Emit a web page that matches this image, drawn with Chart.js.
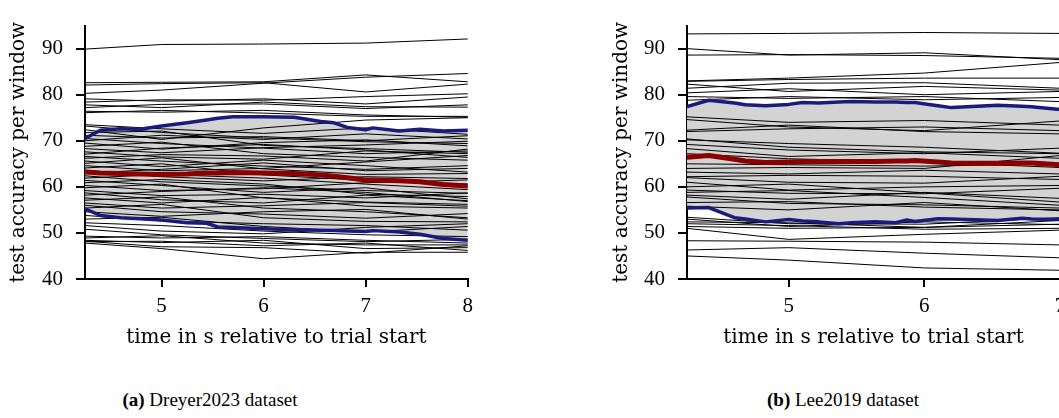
<!DOCTYPE html>
<html>
<head>
<meta charset="utf-8">
<script src="https://cdn.jsdelivr.net/npm/chart.js@4/dist/chart.umd.min.js"></script>
<style>
  html, body { margin: 0; padding: 0; background: #fff; }
  #wrap { position: relative; width: 1059px; height: 418px; overflow: hidden; }
  canvas { position: absolute; top: 0; }
  #chartA { left: 0; }
  #chartB { left: 600px; }
  .caption {
    position: absolute; top: 389px; font-family: "Liberation Serif"; font-size: 19px;
    color: #000; white-space: nowrap; transform: translateX(-50%);
  }
</style>
</head>
<body>
<div id="wrap">
  <canvas id="chartA" width="480" height="360"></canvas>
  <canvas id="chartB" width="480" height="360"></canvas>
  <div class="caption" style="left:210px"><b>(a)</b> Dreyer2023 dataset</div>
  <div class="caption" style="left:843px"><b>(b)</b> Lee2019 dataset</div>
</div>
<script>
// ---- shared axis ticks ----
var yTicks = [40, 50, 60, 70, 80, 90];
var xTicksA = [5, 6, 7, 8];
var xTicksB = [5, 6, 7];

// ---- (a) Dreyer2023: per-subject accuracy at each window ----
var dreyerTimes = [4.25, 5, 6, 7, 8];
var dreyerSubjects = [
  [89.9, 90.9, 91.0, 91.2, 92.1],
  [82.6, 82.7, 82.8, 84.3, 82.8],
  [82.1, 82.4, 82.6, 80.6, 82.3],
  [80.3, 81.0, 82.5, 83.8, 84.6],
  [79.1, 78.6, 79.1, 78.0, 79.5],
  [78.4, 78.9, 78.8, 79.6, 80.2],
  [77.8, 77.2, 78.4, 77.4, 77.3],
  [77.2, 77.9, 78.0, 77.0, 77.8],
  [76.4, 76.2, 76.6, 75.6, 75.1],
  [76.1, 76.6, 76.0, 75.3, 75.3],
  [73.5, 72.6, 71.6, 72.8, 71.4],
  [73.2, 71.8, 70.6, 69.8, 69.4],
  [72.4, 70.3, 72.8, 74.5, 75.0],
  [71.8, 72.1, 69.0, 68.3, 67.5],
  [71.2, 70.6, 70.9, 70.0, 71.1],
  [70.5, 69.4, 68.4, 67.2, 67.8],
  [70.0, 71.2, 70.3, 71.5, 70.4],
  [69.5, 68.2, 69.6, 70.2, 68.9],
  [68.8, 69.7, 67.2, 66.4, 65.8],
  [68.3, 67.4, 68.5, 69.1, 69.9],
  [67.6, 66.5, 66.0, 67.8, 67.2],
  [67.1, 68.4, 69.2, 68.0, 66.4],
  [66.6, 65.6, 64.5, 63.8, 64.6],
  [66.2, 67.0, 66.7, 65.6, 68.2],
  [65.6, 64.4, 65.8, 64.6, 63.2],
  [65.1, 66.3, 63.9, 62.7, 62.9],
  [64.6, 63.5, 64.0, 65.4, 66.8],
  [64.1, 65.0, 62.6, 61.4, 60.6],
  [63.6, 62.2, 61.3, 62.2, 61.8],
  [63.0, 63.8, 65.2, 63.5, 64.0],
  [62.4, 61.1, 60.2, 59.2, 58.6],
  [61.9, 62.7, 61.9, 60.6, 59.4],
  [61.4, 60.3, 58.8, 59.8, 57.4],
  [60.9, 61.6, 60.6, 58.4, 57.9],
  [60.3, 59.2, 59.6, 60.9, 61.5],
  [59.8, 60.6, 57.6, 56.7, 56.2],
  [59.2, 58.1, 58.4, 57.6, 58.7],
  [58.7, 57.2, 56.5, 58.2, 57.0],
  [58.2, 59.0, 59.8, 58.8, 56.8],
  [57.6, 56.5, 57.7, 55.8, 55.4],
  [57.1, 57.8, 55.4, 54.6, 53.3],
  [56.5, 55.4, 55.9, 56.6, 55.8],
  [56.0, 54.6, 54.1, 53.2, 54.2],
  [55.4, 56.2, 53.3, 52.5, 52.4],
  [54.6, 53.6, 54.6, 55.1, 53.0],
  [53.8, 52.6, 52.0, 51.6, 50.6],
  [53.0, 53.4, 51.4, 50.2, 51.4],
  [52.2, 51.6, 50.4, 49.6, 49.2],
  [51.6, 50.4, 49.8, 51.2, 52.0],
  [50.8, 49.6, 48.8, 48.1, 48.6],
  [49.3, 48.9, 49.2, 48.4, 47.8],
  [48.9, 49.4, 47.8, 47.4, 47.4],
  [48.4, 47.9, 48.4, 46.6, 46.8],
  [48.1, 48.2, 47.2, 47.8, 46.2],
  [47.8, 46.6, 44.4, 45.8, 45.8],
  [48.2, 47.0, 46.8, 45.6, 47.2]
];
// mean +/- std over subjects (smoothed, dense)
var dreyerBandTimes = [4.25, 4.4, 4.6, 4.79, 5.0, 5.25, 5.44, 5.55, 5.7, 6.0, 6.3, 6.56, 6.69, 6.82, 7.0, 7.07, 7.33, 7.53, 7.76, 8.0];
var dreyerUpper = [70.5, 72.3, 72.6, 72.5, 73.2, 73.9, 74.5, 74.9, 75.2, 75.2, 75.1, 74.2, 73.9, 72.9, 72.4, 72.8, 72.1, 72.5, 72.1, 72.3];
var dreyerMean  = [63.2, 63.0, 62.9, 62.8, 62.7, 62.8, 63.0, 63.0, 63.1, 63.0, 62.9, 62.6, 62.3, 62.0, 61.5, 61.5, 61.3, 61.1, 60.5, 60.2];
var dreyerLower = [55.2, 53.8, 53.3, 53.1, 52.8, 52.2, 52.1, 51.3, 51.2, 50.9, 50.7, 50.6, 50.5, 50.4, 50.3, 50.5, 50.2, 49.7, 48.8, 48.4];

// ---- (b) Lee2019 ----
var leeTimes = [4.25, 5, 6, 7];
var leeSubjects = [
  [93.2, 93.3, 93.5, 93.3],
  [90.0, 88.6, 89.1, 87.6],
  [88.6, 88.7, 88.5, 87.9],
  [83.0, 83.6, 84.7, 87.0],
  [82.9, 83.3, 83.6, 83.6],
  [82.3, 80.7, 81.8, 81.0],
  [81.4, 82.5, 82.6, 81.4],
  [80.4, 81.3, 80.0, 80.7],
  [79.6, 79.2, 79.6, 78.5],
  [78.8, 79.6, 78.9, 79.4],
  [75.2, 74.0, 74.4, 73.4],
  [74.6, 73.0, 72.2, 74.3],
  [72.3, 73.4, 72.0, 71.5],
  [72.0, 72.6, 73.0, 72.2],
  [70.4, 68.6, 67.6, 67.2],
  [70.2, 69.4, 68.6, 67.3],
  [69.2, 68.0, 67.2, 68.4],
  [68.3, 66.6, 67.4, 66.2],
  [67.2, 66.1, 65.4, 64.2],
  [65.0, 64.8, 64.5, 65.0],
  [64.0, 64.2, 64.0, 66.8],
  [63.2, 62.8, 63.6, 62.8],
  [62.2, 62.5, 62.3, 61.6],
  [62.0, 61.0, 60.8, 62.3],
  [61.0, 59.3, 60.0, 60.3],
  [60.0, 60.6, 58.7, 56.7],
  [59.3, 58.6, 58.5, 59.7],
  [58.8, 59.2, 57.7, 56.0],
  [58.2, 57.3, 58.8, 57.5],
  [57.8, 56.4, 56.1, 55.4],
  [56.6, 56.8, 55.6, 55.0],
  [55.8, 55.0, 56.6, 54.8],
  [53.4, 52.0, 51.9, 53.3],
  [53.0, 51.4, 52.4, 51.8],
  [52.4, 52.2, 51.2, 52.7],
  [52.0, 51.6, 50.8, 51.0],
  [51.4, 51.0, 51.2, 51.9],
  [51.0, 48.6, 49.7, 50.6],
  [48.3, 48.2, 48.0, 47.4],
  [46.3, 46.8, 45.6, 44.6],
  [45.0, 44.1, 42.4, 41.9]
];
var leeBandTimes = [4.25, 4.41, 4.6, 4.68, 4.83, 5.0, 5.1, 5.22, 5.37, 5.46, 5.64, 5.79, 5.87, 5.93, 6.1, 6.2, 6.54, 6.72, 6.79, 7.0];
var leeUpper = [77.4, 78.8, 78.2, 77.8, 77.6, 77.9, 78.3, 78.2, 78.4, 78.5, 78.4, 78.4, 78.3, 78.3, 77.6, 77.2, 77.7, 77.5, 77.4, 76.8];
var leeMean  = [66.4, 66.8, 66.0, 65.6, 65.3, 65.4, 65.5, 65.5, 65.5, 65.5, 65.5, 65.6, 65.6, 65.7, 65.4, 65.2, 65.1, 65.2, 65.2, 64.8];
var leeLower = [55.4, 55.5, 53.3, 53.0, 52.4, 52.9, 52.6, 52.4, 52.0, 52.2, 52.4, 52.2, 52.8, 52.5, 53.1, 53.0, 52.7, 53.2, 53.0, 52.9];

var BLUE = '#1b1b7d';
var RED = '#8b0000';
var BAND = '#d3d3d3';
var TICK_FONT = { family: 'Liberation Serif', size: 21 };
var TITLE_FONT = { family: 'DejaVu Serif', size: 20 };

function pts(xs, ys) {
  return xs.map(function (x, i) { return { x: x, y: ys[i] }; });
}

function datasets(times, subjects, bandTimes, upper, mean, lower) {
  var ds = [
    { data: pts(bandTimes, upper), borderColor: BLUE, borderWidth: 3.5, fill: '+1', backgroundColor: BAND, order: 0 },
    { data: pts(bandTimes, lower), borderColor: BLUE, borderWidth: 3.5, fill: false, order: 0 },
    { data: pts(bandTimes, mean), borderColor: RED, borderWidth: 5, fill: false, order: 0 }
  ];
  subjects.forEach(function (s) {
    ds.push({ data: pts(times, s), borderColor: '#000', borderWidth: 1, fill: false, order: 1 });
  });
  return ds;
}

function makeChart(id, ds, xMax, xTicks, axisWidth, padRight, yTitlePad) {
  return new Chart(document.getElementById(id), {
    type: 'line',
    data: { datasets: ds },
    options: {
      responsive: false,
      animation: false,
      layout: { padding: { top: 15, right: padRight, left: 0, bottom: 0 } },
      elements: { point: { radius: 0 }, line: { tension: 0, borderJoinStyle: 'round', borderCapStyle: 'round' } },
      plugins: { legend: { display: false }, tooltip: { enabled: false }, filler: { drawTime: 'beforeDatasetsDraw' } },
      scales: {
        x: {
          type: 'linear', min: 4.25, max: xMax,
          afterBuildTicks: function (s) { s.ticks = xTicks.map(function (v) { return { value: v }; }); },
          afterFit: function (s) { s.height = 81; },
          border: { display: true, color: '#000', width: 2 },
          grid: { drawOnChartArea: false, drawTicks: true, tickLength: 8, color: '#000', lineWidth: 2 },
          ticks: { font: TICK_FONT, color: '#000', padding: 7, maxRotation: 0 },
          title: { display: true, text: 'time in s relative to trial start', font: TITLE_FONT, color: '#000', padding: { bottom: 10 } }
        },
        y: {
          type: 'linear', min: 40, max: 95,
          afterBuildTicks: function (s) { s.ticks = yTicks.map(function (v) { return { value: v }; }); },
          afterFit: function (s) { s.width = axisWidth; },
          border: { display: true, color: '#000', width: 2 },
          grid: { drawOnChartArea: false, drawTicks: true, tickLength: 9, color: '#000', lineWidth: 2 },
          ticks: { font: TICK_FONT, color: '#000', padding: 13 },
          title: { display: true, text: 'test accuracy per window', font: TITLE_FONT, color: '#000', padding: { top: yTitlePad } }
        }
      }
    }
  });
}

makeChart('chartA', datasets(dreyerTimes, dreyerSubjects, dreyerBandTimes, dreyerUpper, dreyerMean, dreyerLower), 8, xTicksA, 85, 12, 7);
makeChart('chartB', datasets(leeTimes, leeSubjects, leeBandTimes, leeUpper, leeMean, leeLower), 7, xTicksB, 87, 20, 10);
</script>
</body>
</html>
